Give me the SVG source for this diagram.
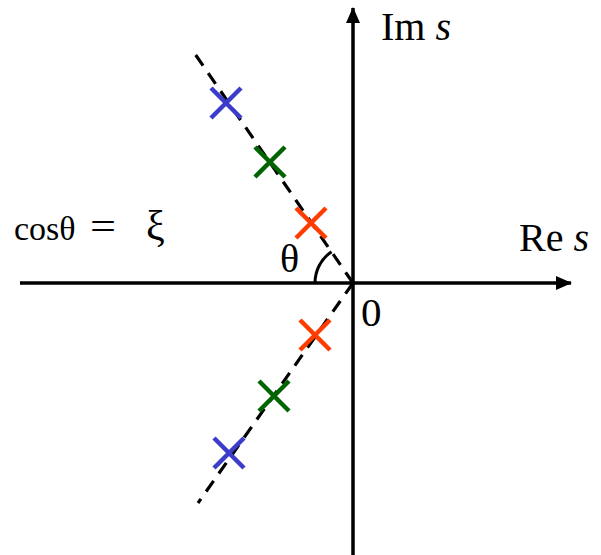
<svg xmlns="http://www.w3.org/2000/svg" width="601" height="555" viewBox="0 0 601 555">
<style>
.ax{stroke:#000;stroke-width:3.5;fill:none}
.dash{stroke:#000;stroke-width:3.2;fill:none;stroke-dasharray:13 9}
.x{stroke-width:4.5;fill:none}
.b{stroke:#3b3bcc}
.g{stroke:#006400}
.r{stroke:#ff3c00}
text{font-family:"Liberation Serif","Times New Roman",serif;fill:#000}
</style>
<defs>
<marker id="ah" markerWidth="16" markerHeight="14" refX="15" refY="7" orient="auto" markerUnits="userSpaceOnUse">
<path d="M0,0 L16,7 L0,14 Z" fill="#000"/>
</marker>
</defs>
<rect width="601" height="555" fill="#fff"/>
<g id="axes">
<line class="ax" x1="20" y1="283" x2="571" y2="283" marker-end="url(#ah)"/>
<line class="ax" x1="353" y1="555" x2="353" y2="8" marker-end="url(#ah)"/>
</g>
<g id="connectors">
<line class="dash" x1="353" y1="283" x2="195" y2="54"/>
<line class="dash" x1="353" y1="283" x2="198" y2="503"/>
<path class="ax" d="M315,283 A38,38 0 0 1 331.5,251.7" style="stroke-width:3"/>
</g>
<g id="pole-blue-up"><path class="x b" d="M211,88 L241,118 M241,88 L211,118"/></g>
<g id="pole-green-up"><path class="x g" d="M255,147 L285,177 M285,147 L255,177"/></g>
<g id="pole-red-up"><path class="x r" d="M296,208 L326,238 M326,208 L296,238"/></g>
<g id="pole-red-down"><path class="x r" d="M300,320 L330,350 M330,320 L300,350"/></g>
<g id="pole-green-down"><path class="x g" d="M259,381 L289,411 M289,381 L259,411"/></g>
<g id="pole-blue-down"><path class="x b" d="M214,438 L244,468 M244,438 L214,468"/></g>
<g id="labels">
<text x="381" y="40" font-size="40">Im <tspan font-style="italic">s</tspan></text>
<text x="519" y="251" font-size="40">Re <tspan font-style="italic">s</tspan></text>
<text x="361" y="326" font-size="41">0</text>
<text x="280" y="272" font-size="40">θ</text>
<text x="14" y="240" font-size="34">cosθ</text>
<text x="90" y="240" font-size="40" textLength="26" lengthAdjust="spacingAndGlyphs">=</text>
<text x="146" y="240" font-size="42">ξ</text>
</g>
</svg>
